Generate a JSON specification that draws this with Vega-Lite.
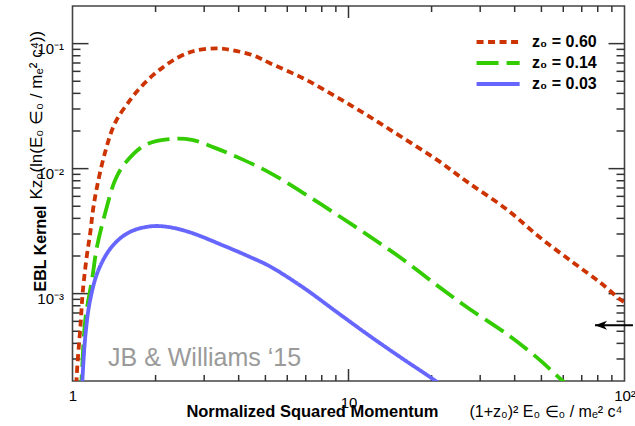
{
  "$schema": "https://vega.github.io/schema/vega-lite/v6.json",
  "width": 552,
  "height": 375,
  "autosize": "none",
  "padding": {"left": 72.5, "top": 6, "right": 10.5, "bottom": 45},
  "background": "white",
  "datasets": {
    "xmajor": [{"v": 10}],
    "xminor": [{"v": 2}, {"v": 3}, {"v": 4}, {"v": 5}, {"v": 6}, {"v": 7}, {"v": 8}, {"v": 9}, {"v": 20}, {"v": 30}, {"v": 40}, {"v": 50}, {"v": 60}, {"v": 70}, {"v": 80}, {"v": 90}],
    "ymajor": [{"v": 0.001}, {"v": 0.01}, {"v": 0.1}],
    "yminor": [{"v": 0.0003}, {"v": 0.0004}, {"v": 0.0005}, {"v": 0.0006}, {"v": 0.0007}, {"v": 0.0008}, {"v": 0.0009}, {"v": 0.002}, {"v": 0.003}, {"v": 0.004}, {"v": 0.005}, {"v": 0.006}, {"v": 0.007}, {"v": 0.008}, {"v": 0.009}, {"v": 0.02}, {"v": 0.03}, {"v": 0.04}, {"v": 0.05}, {"v": 0.06}, {"v": 0.07}, {"v": 0.08}, {"v": 0.09}]
  },
  "config": {
    "font": "Liberation Sans",
    "view": {"stroke": "#444444", "strokeWidth": 1.6},
    "rule": {"color": "#333333", "strokeWidth": 1.5},
    "axis": {
      "domain": false,
      "ticks": false,
      "grid": false,
      "labelFont": "Liberation Sans",
      "labelFontSize": 15,
      "labelColor": "black",
      "titleFont": "Liberation Sans",
      "titleFontSize": 16,
      "titleColor": "black"
    }
  },
  "resolve": {"scale": {"x": "independent", "y": "independent"}},
  "layer": [
    {
      "data": {"name": "xmajor"},
      "mark": {"type": "rule"},
      "encoding": {
        "x": {"field": "v", "type": "quantitative", "scale": {"type": "log", "domain": [1, 100], "nice": false}, "axis": null},
        "y": {"datum": 0.0002, "type": "quantitative", "scale": {"type": "log", "domain": [0.0002, 0.2], "nice": false}, "axis": null},
        "y2": {"datum": 0.0002495}
      }
    },
    {
      "data": {"name": "xmajor"},
      "mark": {"type": "rule"},
      "encoding": {
        "x": {"field": "v", "type": "quantitative", "scale": {"type": "log", "domain": [1, 100], "nice": false}, "axis": null},
        "y": {"datum": 0.16033, "type": "quantitative", "scale": {"type": "log", "domain": [0.0002, 0.2], "nice": false}, "axis": null},
        "y2": {"datum": 0.2}
      }
    },
    {
      "data": {"name": "xminor"},
      "mark": {"type": "rule"},
      "encoding": {
        "x": {"field": "v", "type": "quantitative", "scale": {"type": "log", "domain": [1, 100], "nice": false}, "axis": null},
        "y": {"datum": 0.0002, "type": "quantitative", "scale": {"type": "log", "domain": [0.0002, 0.2], "nice": false}, "axis": null},
        "y2": {"datum": 0.0002234}
      }
    },
    {
      "data": {"name": "xminor"},
      "mark": {"type": "rule"},
      "encoding": {
        "x": {"field": "v", "type": "quantitative", "scale": {"type": "log", "domain": [1, 100], "nice": false}, "axis": null},
        "y": {"datum": 0.17907, "type": "quantitative", "scale": {"type": "log", "domain": [0.0002, 0.2], "nice": false}, "axis": null},
        "y2": {"datum": 0.2}
      }
    },
    {
      "data": {"name": "ymajor"},
      "mark": {"type": "rule"},
      "encoding": {
        "y": {"field": "v", "type": "quantitative", "scale": {"type": "log", "domain": [0.0002, 0.2], "nice": false}, "axis": null},
        "x": {"datum": 1, "type": "quantitative", "scale": {"type": "log", "domain": [1, 100], "nice": false}, "axis": null},
        "x2": {"datum": 1.1428}
      }
    },
    {
      "data": {"name": "ymajor"},
      "mark": {"type": "rule"},
      "encoding": {
        "y": {"field": "v", "type": "quantitative", "scale": {"type": "log", "domain": [0.0002, 0.2], "nice": false}, "axis": null},
        "x": {"datum": 87.5, "type": "quantitative", "scale": {"type": "log", "domain": [1, 100], "nice": false}, "axis": null},
        "x2": {"datum": 100}
      }
    },
    {
      "data": {"name": "yminor"},
      "mark": {"type": "rule"},
      "encoding": {
        "y": {"field": "v", "type": "quantitative", "scale": {"type": "log", "domain": [0.0002, 0.2], "nice": false}, "axis": null},
        "x": {"datum": 1, "type": "quantitative", "scale": {"type": "log", "domain": [1, 100], "nice": false}, "axis": null},
        "x2": {"datum": 1.069}
      }
    },
    {
      "data": {"name": "yminor"},
      "mark": {"type": "rule"},
      "encoding": {
        "y": {"field": "v", "type": "quantitative", "scale": {"type": "log", "domain": [0.0002, 0.2], "nice": false}, "axis": null},
        "x": {"datum": 93.55, "type": "quantitative", "scale": {"type": "log", "domain": [1, 100], "nice": false}, "axis": null},
        "x2": {"datum": 100}
      }
    },
    {
      "data": {"values": [
        {"series": "z₀ = 0.60", "x": 1.030, "y": 0.00010},
        {"series": "z₀ = 0.60", "x": 1.034, "y": 0.000203},
        {"series": "z₀ = 0.60", "x": 1.071, "y": 0.00059},
        {"series": "z₀ = 0.60", "x": 1.089, "y": 0.001023},
        {"series": "z₀ = 0.60", "x": 1.126, "y": 0.00198},
        {"series": "z₀ = 0.60", "x": 1.160, "y": 0.00308},
        {"series": "z₀ = 0.60", "x": 1.187, "y": 0.0047},
        {"series": "z₀ = 0.60", "x": 1.227, "y": 0.00716},
        {"series": "z₀ = 0.60", "x": 1.311, "y": 0.01337},
        {"series": "z₀ = 0.60", "x": 1.426, "y": 0.0232},
        {"series": "z₀ = 0.60", "x": 1.616, "y": 0.0353},
        {"series": "z₀ = 0.60", "x": 1.756, "y": 0.0441},
        {"series": "z₀ = 0.60", "x": 1.957, "y": 0.0559},
        {"series": "z₀ = 0.60", "x": 2.128, "y": 0.0647},
        {"series": "z₀ = 0.60", "x": 2.313, "y": 0.0736},
        {"series": "z₀ = 0.60", "x": 2.600, "y": 0.0837},
        {"series": "z₀ = 0.60", "x": 2.826, "y": 0.0884},
        {"series": "z₀ = 0.60", "x": 3.339, "y": 0.0917},
        {"series": "z₀ = 0.60", "x": 3.815, "y": 0.0884},
        {"series": "z₀ = 0.60", "x": 4.508, "y": 0.0807},
        {"series": "z₀ = 0.60", "x": 5.195, "y": 0.0697},
        {"series": "z₀ = 0.60", "x": 6.841, "y": 0.0529},
        {"series": "z₀ = 0.60", "x": 9.086, "y": 0.0373},
        {"series": "z₀ = 0.60", "x": 11.96, "y": 0.0259},
        {"series": "z₀ = 0.60", "x": 15.76, "y": 0.0176},
        {"series": "z₀ = 0.60", "x": 20.93, "y": 0.01175},
        {"series": "z₀ = 0.60", "x": 26.88, "y": 0.00785},
        {"series": "z₀ = 0.60", "x": 37.52, "y": 0.0047},
        {"series": "z₀ = 0.60", "x": 49.41, "y": 0.00281},
        {"series": "z₀ = 0.60", "x": 65.09, "y": 0.001776},
        {"series": "z₀ = 0.60", "x": 81.52, "y": 0.00123},
        {"series": "z₀ = 0.60", "x": 96.3, "y": 0.0009},
        {"series": "z₀ = 0.60", "x": 100, "y": 0.00085},

        {"series": "z₀ = 0.14", "x": 1.070, "y": 0.00015},
        {"series": "z₀ = 0.14", "x": 1.082, "y": 0.000236},
        {"series": "z₀ = 0.14", "x": 1.113, "y": 0.000624},
        {"series": "z₀ = 0.14", "x": 1.177, "y": 0.0013},
        {"series": "z₀ = 0.14", "x": 1.227, "y": 0.00238},
        {"series": "z₀ = 0.14", "x": 1.315, "y": 0.00445},
        {"series": "z₀ = 0.14", "x": 1.429, "y": 0.00814},
        {"series": "z₀ = 0.14", "x": 1.554, "y": 0.01112},
        {"series": "z₀ = 0.14", "x": 1.835, "y": 0.01548},
        {"series": "z₀ = 0.14", "x": 2.294, "y": 0.01728},
        {"series": "z₀ = 0.14", "x": 2.710, "y": 0.01697},
        {"series": "z₀ = 0.14", "x": 3.283, "y": 0.01465},
        {"series": "z₀ = 0.14", "x": 4.011, "y": 0.01219},
        {"series": "z₀ = 0.14", "x": 5.195, "y": 0.00926},
        {"series": "z₀ = 0.14", "x": 6.841, "y": 0.00641},
        {"series": "z₀ = 0.14", "x": 9.086, "y": 0.00428},
        {"series": "z₀ = 0.14", "x": 11.96, "y": 0.00286},
        {"series": "z₀ = 0.14", "x": 15.76, "y": 0.001876},
        {"series": "z₀ = 0.14", "x": 20.93, "y": 0.001164},
        {"series": "z₀ = 0.14", "x": 26.88, "y": 0.000778},
        {"series": "z₀ = 0.14", "x": 37.52, "y": 0.000474},
        {"series": "z₀ = 0.14", "x": 49.41, "y": 0.000294},
        {"series": "z₀ = 0.14", "x": 59.36, "y": 0.000203},
        {"series": "z₀ = 0.14", "x": 69.0, "y": 0.000155},

        {"series": "z₀ = 0.03", "x": 1.082, "y": 0.000173},
        {"series": "z₀ = 0.03", "x": 1.113, "y": 0.000457},
        {"series": "z₀ = 0.03", "x": 1.160, "y": 0.000901},
        {"series": "z₀ = 0.03", "x": 1.244, "y": 0.00156},
        {"series": "z₀ = 0.03", "x": 1.390, "y": 0.00238},
        {"series": "z₀ = 0.03", "x": 1.598, "y": 0.00308},
        {"series": "z₀ = 0.03", "x": 1.888, "y": 0.00344},
        {"series": "z₀ = 0.03", "x": 2.169, "y": 0.00344},
        {"series": "z₀ = 0.03", "x": 2.643, "y": 0.00311},
        {"series": "z₀ = 0.03", "x": 3.481, "y": 0.00245},
        {"series": "z₀ = 0.03", "x": 4.36, "y": 0.00198},
        {"series": "z₀ = 0.03", "x": 5.195, "y": 0.00165},
        {"series": "z₀ = 0.03", "x": 6.841, "y": 0.001122},
        {"series": "z₀ = 0.03", "x": 9.086, "y": 0.00071},
        {"series": "z₀ = 0.03", "x": 11.96, "y": 0.000457},
        {"series": "z₀ = 0.03", "x": 15.76, "y": 0.0003},
        {"series": "z₀ = 0.03", "x": 20.24, "y": 0.000207},
        {"series": "z₀ = 0.03", "x": 23.32, "y": 0.000164}
      ]},
      "mark": {"type": "line", "clip": true, "strokeWidth": 3.8, "interpolate": "catmull-rom"},
      "encoding": {
        "x": {
          "field": "x", "type": "quantitative",
          "scale": {"type": "log", "domain": [1, 100], "nice": false},
          "axis": {
            "orient": "bottom",
            "values": [1, 10, 100],
            "labelExpr": "datum.value < 5 ? '1' : datum.value < 50 ? '10' : '10²'",
            "labelPadding": 14.6,
            "labelFlush": false,
            "labelOverlap": false,
            "labelBaseline": {"condition": {"test": "datum.value > 5 && datum.value < 50", "value": "top"}, "value": "middle"},
            "title": "Normalized Squared Momentum",
            "titleFontWeight": "bold",
            "titleFontSize": 16.5,
            "titleAngle": 0,
            "titleAlign": "right",
            "titleBaseline": "alphabetic",
            "titleX": 365.5,
            "titleY": 35
          }
        },
        "y": {
          "field": "y", "type": "quantitative",
          "scale": {"type": "log", "domain": [0.0002, 0.2], "nice": false},
          "axis": {
            "orient": "left",
            "values": [0.001, 0.01, 0.1],
            "labelExpr": "datum.value > 0.05 ? '10⁻¹' : datum.value > 0.005 ? '10⁻²' : '10⁻³'",
            "labelPadding": 9,
            "labelOffset": 5,
            "labelBaseline": "middle",
            "labelOverlap": false,
            "title": "EBL Kernel",
            "titleFontWeight": "bold",
            "titleAngle": 270,
            "titleAlign": "right",
            "titleBaseline": "alphabetic",
            "titleX": -27.5,
            "titleY": 199
          }
        },
        "color": {
          "field": "series", "type": "nominal",
          "scale": {"domain": ["z₀ = 0.60", "z₀ = 0.14", "z₀ = 0.03"], "range": ["#cc3300", "#33cc00", "#6666ff"]},
          "legend": {
            "title": null, "orient": "none", "legendX": 417.6, "legendY": 28,
            "symbolType": "M-4,0L4,0", "symbolSize": 116, "symbolStrokeWidth": 3.8,
            "labelFont": "Liberation Sans", "labelFontSize": 16, "labelFontWeight": "bold",
            "labelColor": "black", "labelOffset": 26, "rowPadding": 5
          }
        },
        "strokeDash": {
          "field": "series", "type": "nominal",
          "scale": {"domain": ["z₀ = 0.60", "z₀ = 0.14", "z₀ = 0.03"], "range": [[7, 4.5], [22, 8], [1, 0]]},
          "legend": {
            "title": null, "orient": "none", "legendX": 417.6, "legendY": 28,
            "symbolType": "M-4,0L4,0", "symbolSize": 116, "symbolStrokeWidth": 3.8,
            "labelFont": "Liberation Sans", "labelFontSize": 16, "labelFontWeight": "bold",
            "labelColor": "black", "labelOffset": 26, "rowPadding": 5
          }
        }
      }
    },
    {
      "data": {"values": [{"label": "JB & Williams ‘15"}]},
      "mark": {"type": "text", "align": "left", "baseline": "alphabetic", "fontSize": 25, "color": "#9a9a9a", "font": "Liberation Sans"},
      "encoding": {
        "text": {"field": "label"},
        "x": {
          "datum": 1.345, "type": "quantitative",
          "scale": {"type": "log", "domain": [1, 100], "nice": false},
          "axis": {
            "orient": "bottom",
            "values": [2],
            "labels": false,
            "title": "(1+z₀)² E₀ ∈₀ / mₑ² c⁴",
            "titleFontWeight": "normal",
            "titleAngle": 0,
            "titleAlign": "left",
            "titleBaseline": "alphabetic",
            "titleX": 396.5,
            "titleY": 35
          }
        },
        "y": {
          "datum": 0.000264, "type": "quantitative",
          "scale": {"type": "log", "domain": [0.0002, 0.2], "nice": false},
          "axis": {
            "orient": "left",
            "values": [0.002],
            "labels": false,
            "title": "Kz₀(ln(E₀ ∈₀ / mₑ² c⁴))",
            "titleFontWeight": "normal",
            "titleFontSize": 17,
            "titleAngle": 270,
            "titleAlign": "left",
            "titleBaseline": "alphabetic",
            "titleX": -31.5,
            "titleY": 193
          }
        }
      }
    },
    {
      "data": {"values": [{"a": 1}]},
      "mark": {"type": "rule", "color": "black", "strokeWidth": 2},
      "encoding": {
        "x": {"datum": 78.2, "type": "quantitative", "scale": {"type": "log", "domain": [1, 100], "nice": false}, "axis": null},
        "x2": {"datum": 107.3},
        "y": {"datum": 0.000559, "type": "quantitative", "scale": {"type": "log", "domain": [0.0002, 0.2], "nice": false}, "axis": null}
      }
    },
    {
      "data": {"values": [{"a": 1}]},
      "mark": {"type": "point", "shape": "M-1,0L1,-0.75L0.45,0L1,0.75Z", "filled": true, "color": "black", "size": 144, "opacity": 1},
      "encoding": {
        "x": {"datum": 82.2, "type": "quantitative", "scale": {"type": "log", "domain": [1, 100], "nice": false}, "axis": null},
        "y": {"datum": 0.000559, "type": "quantitative", "scale": {"type": "log", "domain": [0.0002, 0.2], "nice": false}, "axis": null}
      }
    }
  ]
}
